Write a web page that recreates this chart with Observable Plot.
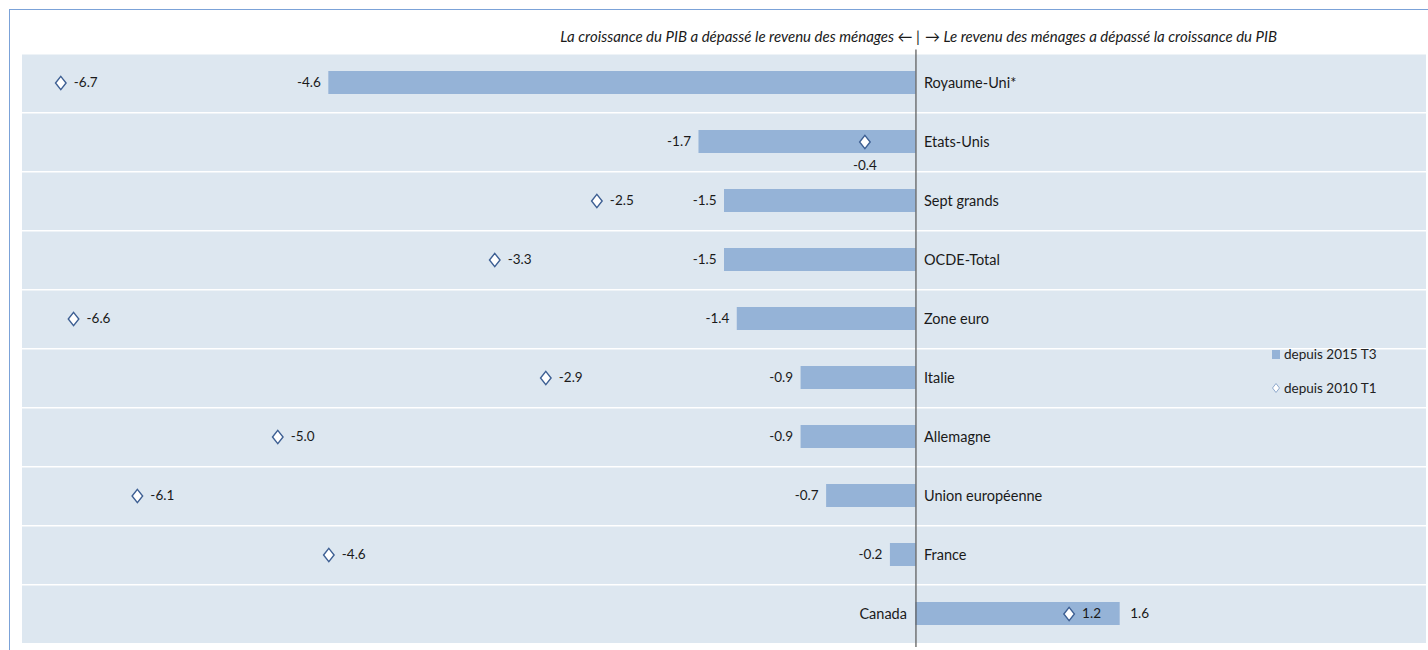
<!DOCTYPE html>
<html><head><meta charset="utf-8">
<script src="https://cdn.jsdelivr.net/npm/d3@7"></script>
<script src="https://cdn.jsdelivr.net/npm/@observablehq/plot@0.6"></script>
<style>
body{margin:0;background:#fff;font-family:Lato,"Liberation Sans",sans-serif;}
#wrap{position:relative;width:1428px;height:650px;overflow:hidden;}
#border{position:absolute;left:9px;top:9px;width:1500px;height:700px;border-top:1.5px solid #7ba2d8;border-left:1.5px solid #7ba2d8;}
#chart{position:absolute;left:0;top:0;}
#legend{position:absolute;left:1271px;top:344px;font-size:13.5px;color:#222;line-height:20px;}
#legend div{display:flex;align-items:center;height:20px;margin-bottom:14px;}
#legend svg{margin-right:3px;}
</style></head>
<body>
<div id="wrap"><div id="border"></div><div id="chart"></div>
<div id="legend">
<div><svg width="10" height="11"><rect x="1" y="1" width="8" height="9" fill="#95b3d7"/></svg><span class="l1"></span></div>
<div><svg width="10" height="12"><path d="M5,1.5L8.5,6L5,10.5L1.5,6Z" fill="#fff" stroke="#8fa9cc" stroke-width="1"/></svg><span class="l2"></span></div>
</div>
</div>
<script>
const countries = ["Royaume-Uni*","Etats-Unis","Sept grands","OCDE-Total","Zone euro","Italie","Allemagne","Union européenne","France","Canada"];
const since2015 = [-4.6,-1.7,-1.5,-1.5,-1.4,-0.9,-0.9,-0.7,-0.2,1.6];
const since2010 = [-6.7,-0.4,-2.5,-3.3,-6.6,-2.9,-5.0,-6.1,-4.6,1.2];
const seriesNames = ["depuis 2015 T3","depuis 2010 T1"];
const labelBelow = ["Etats-Unis"];
const titleLeft = "La croissance du PIB a dépassé le revenu des ménages ← |";
const titleRight = "→ Le revenu des ménages a dépassé la croissance du PIB";
const xDomain = [-7, 4];

const data = countries.map((c,i)=>({country:c, a:since2015[i], b:since2010[i]}));
const neg = data.filter(d=>d.a<0), pos = data.filter(d=>d.a>=0);
const fmt = d3.format(".1f");
const fmtN = v => (v<0?"-":"") + fmt(Math.abs(v));

const diamond = {draw(ctx, size){const r=Math.sqrt(size/Math.PI);const w=r*0.8;ctx.moveTo(0,-r);ctx.lineTo(w,0);ctx.lineTo(0,r);ctx.lineTo(-w,0);ctx.closePath();}};

const font = "Lato, 'Liberation Sans', sans-serif";
const ink = "#1a1a1a";
const chart = Plot.plot({
  width:1428, height:650,
  marginTop:48, marginBottom:3, marginLeft:22, marginRight:2,
  style:{fontFamily:font, background:"transparent", overflow:"visible"},
  x:{domain:xDomain, axis:null},
  y:{domain:countries, axis:null, padding:0},
  marks:[
    Plot.barX(data,{y:"country", x1:xDomain[0], x2:xDomain[1], fill:"#dde7f0", insetTop:1.5}),
    Plot.barX(data,{y:"country", x1:0, x2:"a", fill:"#95b3d7", insetTop:18, insetBottom:18}),
    Plot.ruleX([0],{stroke:"#555", strokeWidth:1.2, insetTop:1.5}),
    Plot.dot(data,{x:"b", y:"country", symbol:diamond, r:6.6, fill:"#fff", stroke:"#3d5f93", strokeWidth:1.4}),
    // value labels for bars
    Plot.text(neg,{x:"a", y:"country", text:d=>fmtN(d.a), textAnchor:"end", dx:-8, fontSize:13.5, fill:ink}),
    Plot.text(pos,{x:"a", y:"country", text:d=>fmtN(d.a), textAnchor:"start", dx:10, fontSize:13.5, fill:ink}),
    // diamond labels
    Plot.text(data.filter(d=>!labelBelow.includes(d.country)),{x:"b", y:"country", text:d=>fmtN(d.b), textAnchor:"start", dx:13, fontSize:13.5, fill:ink}),
    Plot.text(data.filter(d=>labelBelow.includes(d.country)),{x:"b", y:"country", text:d=>fmtN(d.b), textAnchor:"middle", dy:24, fontSize:13.5, fill:ink}),
    // category labels
    Plot.text(neg,{x:0, y:"country", text:"country", textAnchor:"start", dx:8, fontSize:14.5, fill:ink}),
    Plot.text(pos,{x:0, y:"country", text:"country", textAnchor:"end", dx:-9, fontSize:14.5, fill:ink}),
    // title
    Plot.text([0],{x:d=>d, frameAnchor:"top", text:[titleLeft], textAnchor:"end", dx:4, dy:-17, fontSize:15, fontStyle:"italic", fill:ink}),
    Plot.text([0],{x:d=>d, frameAnchor:"top", text:[titleRight], textAnchor:"start", dx:9, dy:-17, fontSize:15, fontStyle:"italic", fill:ink})
  ]
});
document.getElementById("chart").append(chart);
document.querySelector("#legend .l1").textContent = seriesNames[0];
document.querySelector("#legend .l2").textContent = seriesNames[1];
</script>
</body></html>
